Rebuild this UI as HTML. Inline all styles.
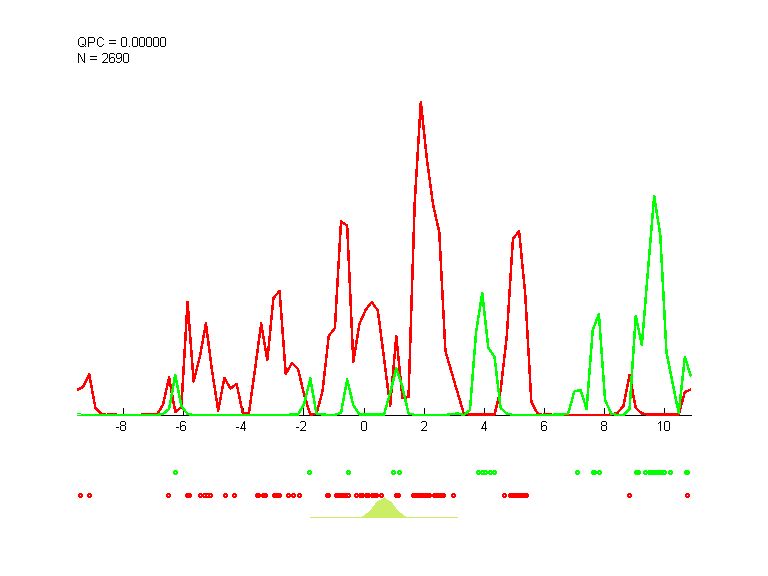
<!DOCTYPE html>
<html><head><meta charset="utf-8"><style>
html,body{margin:0;padding:0;background:#fff;width:768px;height:576px;overflow:hidden;position:relative;font-family:"Liberation Sans",sans-serif}
.t{position:absolute;font-size:13px;line-height:14px;white-space:nowrap;color:transparent}
</style></head><body>
<svg width="768" height="576" viewBox="0 0 768 576" style="position:absolute;left:0;top:0"><g shape-rendering="crispEdges"><rect x="77" y="415" width="615" height="1" fill="#000"/><rect x="123" y="408" width="1" height="7" fill="#000"/><rect x="183" y="408" width="1" height="7" fill="#000"/><rect x="243" y="408" width="1" height="7" fill="#000"/><rect x="303" y="408" width="1" height="7" fill="#000"/><rect x="364" y="408" width="1" height="7" fill="#000"/><rect x="424" y="408" width="1" height="7" fill="#000"/><rect x="484" y="408" width="1" height="7" fill="#000"/><rect x="544" y="408" width="1" height="7" fill="#000"/><rect x="604" y="408" width="1" height="7" fill="#000"/><rect x="664" y="408" width="1" height="7" fill="#000"/><path d="M384 497h1v1h-1zM383 498h3v1h-3zM381 499h6v1h-6zM379 500h10v1h-10zM377 501h14v1h-14zM376 502h16v1h-16zM375 503h18v1h-18zM375 504h18v1h-18zM374 505h20v1h-20zM373 506h22v1h-22zM372 507h24v1h-24zM372 508h24v1h-24zM371 509h26v1h-26zM370 510h28v1h-28zM369 511h30v1h-30zM368 512h32v1h-32zM366 513h36v1h-36zM365 514h38v1h-38zM364 515h40v1h-40zM362 516h44v1h-44zM310 517h148v1h-148z" fill="#CCEE66"/><polyline points="77.00,390.0 83.14,387.0 89.28,374.5 95.42,408.0 101.56,414.0 107.70,415.2 113.84,415.2 119.98,415.2 126.12,415.2 132.26,415.2 138.40,415.2 144.54,415.2 150.68,414.5 156.82,414.5 162.96,405.0 169.10,377.5 175.24,412.0 181.38,407.0 187.52,302.0 193.66,381.5 199.80,357.0 205.94,323.5 212.08,371.0 218.22,410.5 224.36,378.0 230.50,388.5 236.64,384.0 242.78,413.0 248.92,413.0 255.06,369.0 261.20,323.5 267.34,360.0 273.48,298.0 279.62,291.0 285.76,374.0 291.90,363.0 298.04,369.0 304.18,395.0 310.32,414.5 316.46,414.0 322.60,391.0 328.74,336.0 334.88,328.0 341.02,221.5 347.16,225.5 353.30,362.0 359.44,324.0 365.58,310.0 371.72,302.0 377.86,310.5 384.00,358.0 390.14,406.0 396.28,336.5 402.42,398.0 408.56,397.0 414.70,203.0 420.84,102.0 426.98,160.0 433.12,205.0 439.26,232.0 445.40,351.0 451.54,372.0 457.68,393.0 463.82,413.6 469.96,414.5 476.10,414.5 482.24,414.5 488.38,414.5 494.52,414.5 500.66,390.0 506.80,336.0 512.94,239.0 519.08,231.0 525.22,294.0 531.36,402.0 537.50,413.5 543.64,415.2 549.78,415.2 555.92,415.2 562.06,415.2 568.20,415.2 574.34,415.2 580.48,415.2 586.62,415.2 592.76,415.2 598.90,415.2 605.04,415.2 611.18,414.5 617.32,413.0 623.46,406.0 629.60,375.0 635.74,408.0 641.88,413.5 648.02,414.5 654.16,414.5 660.30,414.5 666.44,414.5 672.58,414.5 678.72,414.5 684.86,392.0 691.00,389.5" fill="none" stroke="#FF0000" stroke-width="2.5" stroke-linejoin="round"/><polyline points="81.00,415.0 83.14,415.0 89.28,415.0 95.42,415.0 101.56,415.0 107.70,415.0 113.84,415.0 119.98,415.0 126.12,415.0 132.26,415.0 138.40,415.0 144.54,415.0 150.68,415.0 156.82,415.0 162.96,414.0 169.10,409.0 175.24,375.0 181.38,406.0 187.52,414.0 193.66,415.0 199.80,415.0 205.94,415.0 212.08,415.0 218.22,415.0 224.36,415.0 230.50,415.0 236.64,415.0 242.78,415.0 248.92,415.0 255.06,415.0 261.20,415.0 267.34,415.0 273.48,415.0 279.62,415.0 285.76,415.0 291.90,414.5 298.04,414.5 304.18,404.0 310.32,378.5 316.46,413.5 322.60,414.5 328.74,415.0 334.88,415.0 341.02,413.0 347.16,379.5 353.30,405.0 359.44,414.5 365.58,414.5 371.72,414.5 377.86,414.5 384.00,414.8 390.14,393.0 396.28,368.5 402.42,387.0 408.56,413.5 414.70,415.0 420.84,415.0 426.98,415.0 433.12,415.0 439.26,415.0 445.40,415.0 451.54,414.0 457.68,413.5 463.82,415.0 469.96,410.0 476.10,332.0 482.24,293.0 488.38,348.0 494.52,357.0 500.66,408.0 506.80,413.5 512.94,415.0 519.08,415.0 525.22,415.0 531.36,415.0 537.50,415.0 543.64,415.0 549.78,415.0 555.92,414.5 562.06,414.5 568.20,413.5 574.34,391.5 580.48,390.0 586.62,409.0 592.76,330.0 598.90,314.0 605.04,400.0 611.18,413.5 617.32,415.0 623.46,415.0 629.60,409.0 635.74,316.0 641.88,345.0 648.02,270.0 654.16,196.0 660.30,235.0 666.44,352.0 672.58,383.0 678.72,413.0 684.86,357.0 691.00,376.5" fill="none" stroke="#00FF00" stroke-width="2.5" stroke-linejoin="round"/><path d="M101 413h4v1h-4zM107 413h10v1h-10zM141 413h9v1h-9zM536 413h6v1h-6zM543 413h9v1h-9z" fill="#FF0000"/><rect x="77" y="413" width="4" height="1" fill="#00FF00"/><rect x="77" y="415" width="4" height="1" fill="#00FF00"/><path d="M174,470h3v1h1v3h-1v1h-3v-1h-1v-3h1z M175,472h1v1h-1z" fill="#00FF00" fill-rule="evenodd"/><path d="M308,470h3v1h1v3h-1v1h-3v-1h-1v-3h1z M309,472h1v1h-1z" fill="#00FF00" fill-rule="evenodd"/><path d="M347,470h3v1h1v3h-1v1h-3v-1h-1v-3h1z M348,472h1v1h-1z" fill="#00FF00" fill-rule="evenodd"/><path d="M392,470h3v1h1v3h-1v1h-3v-1h-1v-3h1z M393,472h1v1h-1z" fill="#00FF00" fill-rule="evenodd"/><path d="M398,470h3v1h1v3h-1v1h-3v-1h-1v-3h1z M399,472h1v1h-1z" fill="#00FF00" fill-rule="evenodd"/><path d="M477,470h3v1h1v3h-1v1h-3v-1h-1v-3h1z M478,472h1v1h-1z" fill="#00FF00" fill-rule="evenodd"/><path d="M481,470h3v1h1v3h-1v1h-3v-1h-1v-3h1z M482,472h1v1h-1z" fill="#00FF00" fill-rule="evenodd"/><path d="M484,470h3v1h1v3h-1v1h-3v-1h-1v-3h1z M485,472h1v1h-1z" fill="#00FF00" fill-rule="evenodd"/><path d="M489,470h3v1h1v3h-1v1h-3v-1h-1v-3h1z M490,472h1v1h-1z" fill="#00FF00" fill-rule="evenodd"/><path d="M493,470h3v1h1v3h-1v1h-3v-1h-1v-3h1z M494,472h1v1h-1z" fill="#00FF00" fill-rule="evenodd"/><path d="M576,470h3v1h1v3h-1v1h-3v-1h-1v-3h1z M577,472h1v1h-1z" fill="#00FF00" fill-rule="evenodd"/><path d="M592,470h3v1h1v3h-1v1h-3v-1h-1v-3h1z M593,472h1v1h-1z" fill="#00FF00" fill-rule="evenodd"/><path d="M593,470h3v1h1v3h-1v1h-3v-1h-1v-3h1z M594,472h1v1h-1z" fill="#00FF00" fill-rule="evenodd"/><path d="M598,470h3v1h1v3h-1v1h-3v-1h-1v-3h1z M599,472h1v1h-1z" fill="#00FF00" fill-rule="evenodd"/><path d="M635,470h3v1h1v3h-1v1h-3v-1h-1v-3h1z M636,472h1v1h-1z" fill="#00FF00" fill-rule="evenodd"/><path d="M637,470h3v1h1v3h-1v1h-3v-1h-1v-3h1z M638,472h1v1h-1z" fill="#00FF00" fill-rule="evenodd"/><path d="M644,470h3v1h1v3h-1v1h-3v-1h-1v-3h1z M645,472h1v1h-1z" fill="#00FF00" fill-rule="evenodd"/><path d="M648,470h3v1h1v3h-1v1h-3v-1h-1v-3h1z M649,472h1v1h-1z" fill="#00FF00" fill-rule="evenodd"/><path d="M650,470h3v1h1v3h-1v1h-3v-1h-1v-3h1z M651,472h1v1h-1z" fill="#00FF00" fill-rule="evenodd"/><path d="M652,470h3v1h1v3h-1v1h-3v-1h-1v-3h1z M653,472h1v1h-1z" fill="#00FF00" fill-rule="evenodd"/><path d="M654,470h3v1h1v3h-1v1h-3v-1h-1v-3h1z M655,472h1v1h-1z" fill="#00FF00" fill-rule="evenodd"/><path d="M656,470h3v1h1v3h-1v1h-3v-1h-1v-3h1z M657,472h1v1h-1z" fill="#00FF00" fill-rule="evenodd"/><path d="M658,470h3v1h1v3h-1v1h-3v-1h-1v-3h1z M659,472h1v1h-1z" fill="#00FF00" fill-rule="evenodd"/><path d="M660,470h3v1h1v3h-1v1h-3v-1h-1v-3h1z M661,472h1v1h-1z" fill="#00FF00" fill-rule="evenodd"/><path d="M663,470h3v1h1v3h-1v1h-3v-1h-1v-3h1z M664,472h1v1h-1z" fill="#00FF00" fill-rule="evenodd"/><path d="M669,470h3v1h1v3h-1v1h-3v-1h-1v-3h1z M670,472h1v1h-1z" fill="#00FF00" fill-rule="evenodd"/><path d="M685,470h3v1h1v3h-1v1h-3v-1h-1v-3h1z M686,472h1v1h-1z" fill="#00FF00" fill-rule="evenodd"/><path d="M686,470h3v1h1v3h-1v1h-3v-1h-1v-3h1z M687,472h1v1h-1z" fill="#00FF00" fill-rule="evenodd"/><path d="M79,493h3v1h1v3h-1v1h-3v-1h-1v-3h1z M80,495h1v1h-1z" fill="#FF0000" fill-rule="evenodd"/><path d="M88,493h3v1h1v3h-1v1h-3v-1h-1v-3h1z M89,495h1v1h-1z" fill="#FF0000" fill-rule="evenodd"/><path d="M167,493h3v1h1v3h-1v1h-3v-1h-1v-3h1z M168,495h1v1h-1z" fill="#FF0000" fill-rule="evenodd"/><path d="M186,493h3v1h1v3h-1v1h-3v-1h-1v-3h1z M187,495h1v1h-1z" fill="#FF0000" fill-rule="evenodd"/><path d="M188,493h3v1h1v3h-1v1h-3v-1h-1v-3h1z M189,495h1v1h-1z" fill="#FF0000" fill-rule="evenodd"/><path d="M199,493h3v1h1v3h-1v1h-3v-1h-1v-3h1z M200,495h1v1h-1z" fill="#FF0000" fill-rule="evenodd"/><path d="M203,493h3v1h1v3h-1v1h-3v-1h-1v-3h1z M204,495h1v1h-1z" fill="#FF0000" fill-rule="evenodd"/><path d="M206,493h3v1h1v3h-1v1h-3v-1h-1v-3h1z M207,495h1v1h-1z" fill="#FF0000" fill-rule="evenodd"/><path d="M209,493h3v1h1v3h-1v1h-3v-1h-1v-3h1z M210,495h1v1h-1z" fill="#FF0000" fill-rule="evenodd"/><path d="M224,493h3v1h1v3h-1v1h-3v-1h-1v-3h1z M225,495h1v1h-1z" fill="#FF0000" fill-rule="evenodd"/><path d="M233,493h3v1h1v3h-1v1h-3v-1h-1v-3h1z M234,495h1v1h-1z" fill="#FF0000" fill-rule="evenodd"/><path d="M256,493h3v1h1v3h-1v1h-3v-1h-1v-3h1z M257,495h1v1h-1z" fill="#FF0000" fill-rule="evenodd"/><path d="M257,493h3v1h1v3h-1v1h-3v-1h-1v-3h1z M258,495h1v1h-1z" fill="#FF0000" fill-rule="evenodd"/><path d="M262,493h3v1h1v3h-1v1h-3v-1h-1v-3h1z M263,495h1v1h-1z" fill="#FF0000" fill-rule="evenodd"/><path d="M264,493h3v1h1v3h-1v1h-3v-1h-1v-3h1z M265,495h1v1h-1z" fill="#FF0000" fill-rule="evenodd"/><path d="M273,493h3v1h1v3h-1v1h-3v-1h-1v-3h1z M274,495h1v1h-1z" fill="#FF0000" fill-rule="evenodd"/><path d="M275,493h3v1h1v3h-1v1h-3v-1h-1v-3h1z M276,495h1v1h-1z" fill="#FF0000" fill-rule="evenodd"/><path d="M276,493h3v1h1v3h-1v1h-3v-1h-1v-3h1z M277,495h1v1h-1z" fill="#FF0000" fill-rule="evenodd"/><path d="M278,493h3v1h1v3h-1v1h-3v-1h-1v-3h1z M279,495h1v1h-1z" fill="#FF0000" fill-rule="evenodd"/><path d="M287,493h3v1h1v3h-1v1h-3v-1h-1v-3h1z M288,495h1v1h-1z" fill="#FF0000" fill-rule="evenodd"/><path d="M292,493h3v1h1v3h-1v1h-3v-1h-1v-3h1z M293,495h1v1h-1z" fill="#FF0000" fill-rule="evenodd"/><path d="M298,493h3v1h1v3h-1v1h-3v-1h-1v-3h1z M299,495h1v1h-1z" fill="#FF0000" fill-rule="evenodd"/><path d="M326,493h3v1h1v3h-1v1h-3v-1h-1v-3h1z M327,495h1v1h-1z" fill="#FF0000" fill-rule="evenodd"/><path d="M327,493h3v1h1v3h-1v1h-3v-1h-1v-3h1z M328,495h1v1h-1z" fill="#FF0000" fill-rule="evenodd"/><path d="M335,493h3v1h1v3h-1v1h-3v-1h-1v-3h1z M336,495h1v1h-1z" fill="#FF0000" fill-rule="evenodd"/><path d="M337,493h3v1h1v3h-1v1h-3v-1h-1v-3h1z M338,495h1v1h-1z" fill="#FF0000" fill-rule="evenodd"/><path d="M338,493h3v1h1v3h-1v1h-3v-1h-1v-3h1z M339,495h1v1h-1z" fill="#FF0000" fill-rule="evenodd"/><path d="M340,493h3v1h1v3h-1v1h-3v-1h-1v-3h1z M341,495h1v1h-1z" fill="#FF0000" fill-rule="evenodd"/><path d="M342,493h3v1h1v3h-1v1h-3v-1h-1v-3h1z M343,495h1v1h-1z" fill="#FF0000" fill-rule="evenodd"/><path d="M344,493h3v1h1v3h-1v1h-3v-1h-1v-3h1z M345,495h1v1h-1z" fill="#FF0000" fill-rule="evenodd"/><path d="M347,493h3v1h1v3h-1v1h-3v-1h-1v-3h1z M348,495h1v1h-1z" fill="#FF0000" fill-rule="evenodd"/><path d="M355,493h3v1h1v3h-1v1h-3v-1h-1v-3h1z M356,495h1v1h-1z" fill="#FF0000" fill-rule="evenodd"/><path d="M359,493h3v1h1v3h-1v1h-3v-1h-1v-3h1z M360,495h1v1h-1z" fill="#FF0000" fill-rule="evenodd"/><path d="M361,493h3v1h1v3h-1v1h-3v-1h-1v-3h1z M362,495h1v1h-1z" fill="#FF0000" fill-rule="evenodd"/><path d="M365,493h3v1h1v3h-1v1h-3v-1h-1v-3h1z M366,495h1v1h-1z" fill="#FF0000" fill-rule="evenodd"/><path d="M367,493h3v1h1v3h-1v1h-3v-1h-1v-3h1z M368,495h1v1h-1z" fill="#FF0000" fill-rule="evenodd"/><path d="M371,493h3v1h1v3h-1v1h-3v-1h-1v-3h1z M372,495h1v1h-1z" fill="#FF0000" fill-rule="evenodd"/><path d="M373,493h3v1h1v3h-1v1h-3v-1h-1v-3h1z M374,495h1v1h-1z" fill="#FF0000" fill-rule="evenodd"/><path d="M375,493h3v1h1v3h-1v1h-3v-1h-1v-3h1z M376,495h1v1h-1z" fill="#FF0000" fill-rule="evenodd"/><path d="M380,493h3v1h1v3h-1v1h-3v-1h-1v-3h1z M381,495h1v1h-1z" fill="#FF0000" fill-rule="evenodd"/><path d="M395,493h3v1h1v3h-1v1h-3v-1h-1v-3h1z M396,495h1v1h-1z" fill="#FF0000" fill-rule="evenodd"/><path d="M397,493h3v1h1v3h-1v1h-3v-1h-1v-3h1z M398,495h1v1h-1z" fill="#FF0000" fill-rule="evenodd"/><path d="M412,493h3v1h1v3h-1v1h-3v-1h-1v-3h1z M413,495h1v1h-1z" fill="#FF0000" fill-rule="evenodd"/><path d="M414,493h3v1h1v3h-1v1h-3v-1h-1v-3h1z M415,495h1v1h-1z" fill="#FF0000" fill-rule="evenodd"/><path d="M416,493h3v1h1v3h-1v1h-3v-1h-1v-3h1z M417,495h1v1h-1z" fill="#FF0000" fill-rule="evenodd"/><path d="M418,493h3v1h1v3h-1v1h-3v-1h-1v-3h1z M419,495h1v1h-1z" fill="#FF0000" fill-rule="evenodd"/><path d="M420,493h3v1h1v3h-1v1h-3v-1h-1v-3h1z M421,495h1v1h-1z" fill="#FF0000" fill-rule="evenodd"/><path d="M422,493h3v1h1v3h-1v1h-3v-1h-1v-3h1z M423,495h1v1h-1z" fill="#FF0000" fill-rule="evenodd"/><path d="M424,493h3v1h1v3h-1v1h-3v-1h-1v-3h1z M425,495h1v1h-1z" fill="#FF0000" fill-rule="evenodd"/><path d="M426,493h3v1h1v3h-1v1h-3v-1h-1v-3h1z M427,495h1v1h-1z" fill="#FF0000" fill-rule="evenodd"/><path d="M428,493h3v1h1v3h-1v1h-3v-1h-1v-3h1z M429,495h1v1h-1z" fill="#FF0000" fill-rule="evenodd"/><path d="M433,493h3v1h1v3h-1v1h-3v-1h-1v-3h1z M434,495h1v1h-1z" fill="#FF0000" fill-rule="evenodd"/><path d="M435,493h3v1h1v3h-1v1h-3v-1h-1v-3h1z M436,495h1v1h-1z" fill="#FF0000" fill-rule="evenodd"/><path d="M437,493h3v1h1v3h-1v1h-3v-1h-1v-3h1z M438,495h1v1h-1z" fill="#FF0000" fill-rule="evenodd"/><path d="M439,493h3v1h1v3h-1v1h-3v-1h-1v-3h1z M440,495h1v1h-1z" fill="#FF0000" fill-rule="evenodd"/><path d="M441,493h3v1h1v3h-1v1h-3v-1h-1v-3h1z M442,495h1v1h-1z" fill="#FF0000" fill-rule="evenodd"/><path d="M442,493h3v1h1v3h-1v1h-3v-1h-1v-3h1z M443,495h1v1h-1z" fill="#FF0000" fill-rule="evenodd"/><path d="M452,493h3v1h1v3h-1v1h-3v-1h-1v-3h1z M453,495h1v1h-1z" fill="#FF0000" fill-rule="evenodd"/><path d="M503,493h3v1h1v3h-1v1h-3v-1h-1v-3h1z M504,495h1v1h-1z" fill="#FF0000" fill-rule="evenodd"/><path d="M509,493h3v1h1v3h-1v1h-3v-1h-1v-3h1z M510,495h1v1h-1z" fill="#FF0000" fill-rule="evenodd"/><path d="M511,493h3v1h1v3h-1v1h-3v-1h-1v-3h1z M512,495h1v1h-1z" fill="#FF0000" fill-rule="evenodd"/><path d="M513,493h3v1h1v3h-1v1h-3v-1h-1v-3h1z M514,495h1v1h-1z" fill="#FF0000" fill-rule="evenodd"/><path d="M515,493h3v1h1v3h-1v1h-3v-1h-1v-3h1z M516,495h1v1h-1z" fill="#FF0000" fill-rule="evenodd"/><path d="M517,493h3v1h1v3h-1v1h-3v-1h-1v-3h1z M518,495h1v1h-1z" fill="#FF0000" fill-rule="evenodd"/><path d="M519,493h3v1h1v3h-1v1h-3v-1h-1v-3h1z M520,495h1v1h-1z" fill="#FF0000" fill-rule="evenodd"/><path d="M521,493h3v1h1v3h-1v1h-3v-1h-1v-3h1z M522,495h1v1h-1z" fill="#FF0000" fill-rule="evenodd"/><path d="M523,493h3v1h1v3h-1v1h-3v-1h-1v-3h1z M524,495h1v1h-1z" fill="#FF0000" fill-rule="evenodd"/><path d="M525,493h3v1h1v3h-1v1h-3v-1h-1v-3h1z M526,495h1v1h-1z" fill="#FF0000" fill-rule="evenodd"/><path d="M628,493h3v1h1v3h-1v1h-3v-1h-1v-3h1z M629,495h1v1h-1z" fill="#FF0000" fill-rule="evenodd"/><path d="M686,493h3v1h1v3h-1v1h-3v-1h-1v-3h1z M687,495h1v1h-1z" fill="#FF0000" fill-rule="evenodd"/><path d="M80 37h4v1h-4zM79 38h1v1h-1zM84 38h1v1h-1zM78 39h1v1h-1zM85 39h1v1h-1zM78 40h1v1h-1zM85 40h1v1h-1zM78 41h1v1h-1zM85 41h1v1h-1zM78 42h1v1h-1zM85 42h1v1h-1zM78 43h1v1h-1zM85 43h1v1h-1zM78 44h1v1h-1zM82 44h2v1h-2zM85 44h1v1h-1zM79 45h1v1h-1zM84 45h1v1h-1zM80 46h4v1h-4zM85 46h1v1h-1zM88 37h6v1h-6zM88 38h1v1h-1zM94 38h1v1h-1zM88 39h1v1h-1zM94 39h1v1h-1zM88 40h1v1h-1zM94 40h1v1h-1zM88 41h1v1h-1zM94 41h1v1h-1zM88 42h6v1h-6zM88 43h1v1h-1zM88 44h1v1h-1zM88 45h1v1h-1zM88 46h1v1h-1zM99 37h3v1h-3zM98 38h1v1h-1zM102 38h1v1h-1zM97 39h1v1h-1zM103 39h1v1h-1zM97 40h1v1h-1zM97 41h1v1h-1zM97 42h1v1h-1zM97 43h1v1h-1zM97 44h1v1h-1zM103 44h1v1h-1zM98 45h1v1h-1zM102 45h1v1h-1zM99 46h3v1h-3zM109 40h7v1h-7zM109 43h7v1h-7zM122 37h4v1h-4zM121 38h1v1h-1zM126 38h1v1h-1zM121 39h1v1h-1zM126 39h1v1h-1zM121 40h1v1h-1zM126 40h1v1h-1zM121 41h1v1h-1zM126 41h1v1h-1zM121 42h1v1h-1zM126 42h1v1h-1zM121 43h1v1h-1zM126 43h1v1h-1zM121 44h1v1h-1zM126 44h1v1h-1zM121 45h1v1h-1zM126 45h1v1h-1zM122 46h4v1h-4zM129 46h1v1h-1zM133 37h4v1h-4zM132 38h1v1h-1zM137 38h1v1h-1zM132 39h1v1h-1zM137 39h1v1h-1zM132 40h1v1h-1zM137 40h1v1h-1zM132 41h1v1h-1zM137 41h1v1h-1zM132 42h1v1h-1zM137 42h1v1h-1zM132 43h1v1h-1zM137 43h1v1h-1zM132 44h1v1h-1zM137 44h1v1h-1zM132 45h1v1h-1zM137 45h1v1h-1zM133 46h4v1h-4zM140 37h4v1h-4zM139 38h1v1h-1zM144 38h1v1h-1zM139 39h1v1h-1zM144 39h1v1h-1zM139 40h1v1h-1zM144 40h1v1h-1zM139 41h1v1h-1zM144 41h1v1h-1zM139 42h1v1h-1zM144 42h1v1h-1zM139 43h1v1h-1zM144 43h1v1h-1zM139 44h1v1h-1zM144 44h1v1h-1zM139 45h1v1h-1zM144 45h1v1h-1zM140 46h4v1h-4zM147 37h4v1h-4zM146 38h1v1h-1zM151 38h1v1h-1zM146 39h1v1h-1zM151 39h1v1h-1zM146 40h1v1h-1zM151 40h1v1h-1zM146 41h1v1h-1zM151 41h1v1h-1zM146 42h1v1h-1zM151 42h1v1h-1zM146 43h1v1h-1zM151 43h1v1h-1zM146 44h1v1h-1zM151 44h1v1h-1zM146 45h1v1h-1zM151 45h1v1h-1zM147 46h4v1h-4zM154 37h4v1h-4zM153 38h1v1h-1zM158 38h1v1h-1zM153 39h1v1h-1zM158 39h1v1h-1zM153 40h1v1h-1zM158 40h1v1h-1zM153 41h1v1h-1zM158 41h1v1h-1zM153 42h1v1h-1zM158 42h1v1h-1zM153 43h1v1h-1zM158 43h1v1h-1zM153 44h1v1h-1zM158 44h1v1h-1zM153 45h1v1h-1zM158 45h1v1h-1zM154 46h4v1h-4zM161 37h4v1h-4zM160 38h1v1h-1zM165 38h1v1h-1zM160 39h1v1h-1zM165 39h1v1h-1zM160 40h1v1h-1zM165 40h1v1h-1zM160 41h1v1h-1zM165 41h1v1h-1zM160 42h1v1h-1zM165 42h1v1h-1zM160 43h1v1h-1zM165 43h1v1h-1zM160 44h1v1h-1zM165 44h1v1h-1zM160 45h1v1h-1zM165 45h1v1h-1zM161 46h4v1h-4zM78 53h1v1h-1zM84 53h1v1h-1zM78 54h2v1h-2zM84 54h1v1h-1zM78 55h1v1h-1zM80 55h1v1h-1zM84 55h1v1h-1zM78 56h1v1h-1zM80 56h1v1h-1zM84 56h1v1h-1zM78 57h1v1h-1zM81 57h1v1h-1zM84 57h1v1h-1zM78 58h1v1h-1zM81 58h1v1h-1zM84 58h1v1h-1zM78 59h1v1h-1zM82 59h1v1h-1zM84 59h1v1h-1zM78 60h1v1h-1zM82 60h1v1h-1zM84 60h1v1h-1zM78 61h1v1h-1zM83 61h2v1h-2zM78 62h1v1h-1zM84 62h1v1h-1zM90 56h7v1h-7zM90 59h7v1h-7zM103 53h4v1h-4zM102 54h1v1h-1zM107 54h1v1h-1zM107 55h1v1h-1zM107 56h1v1h-1zM107 57h1v1h-1zM106 58h1v1h-1zM105 59h1v1h-1zM104 60h1v1h-1zM103 61h1v1h-1zM102 62h6v1h-6zM110 53h4v1h-4zM109 54h1v1h-1zM114 54h1v1h-1zM109 55h1v1h-1zM109 56h1v1h-1zM109 57h1v1h-1zM111 57h3v1h-3zM109 58h2v1h-2zM114 58h1v1h-1zM109 59h1v1h-1zM114 59h1v1h-1zM109 60h1v1h-1zM114 60h1v1h-1zM109 61h1v1h-1zM114 61h1v1h-1zM110 62h4v1h-4zM117 53h4v1h-4zM116 54h1v1h-1zM121 54h1v1h-1zM116 55h1v1h-1zM121 55h1v1h-1zM116 56h1v1h-1zM121 56h1v1h-1zM116 57h1v1h-1zM120 57h2v1h-2zM117 58h3v1h-3zM121 58h1v1h-1zM121 59h1v1h-1zM121 60h1v1h-1zM116 61h1v1h-1zM120 61h1v1h-1zM117 62h3v1h-3zM124 53h4v1h-4zM123 54h1v1h-1zM128 54h1v1h-1zM123 55h1v1h-1zM128 55h1v1h-1zM123 56h1v1h-1zM128 56h1v1h-1zM123 57h1v1h-1zM128 57h1v1h-1zM123 58h1v1h-1zM128 58h1v1h-1zM123 59h1v1h-1zM128 59h1v1h-1zM123 60h1v1h-1zM128 60h1v1h-1zM123 61h1v1h-1zM128 61h1v1h-1zM124 62h4v1h-4zM116 427h3v1h-3zM121 421h4v1h-4zM120 422h1v1h-1zM125 422h1v1h-1zM120 423h1v1h-1zM125 423h1v1h-1zM120 424h1v1h-1zM125 424h1v1h-1zM121 425h4v1h-4zM120 426h1v1h-1zM125 426h1v1h-1zM120 427h1v1h-1zM125 427h1v1h-1zM120 428h1v1h-1zM125 428h1v1h-1zM120 429h1v1h-1zM125 429h1v1h-1zM121 430h4v1h-4zM176 427h3v1h-3zM181 421h4v1h-4zM180 422h1v1h-1zM185 422h1v1h-1zM180 423h1v1h-1zM180 424h1v1h-1zM180 425h1v1h-1zM182 425h3v1h-3zM180 426h2v1h-2zM185 426h1v1h-1zM180 427h1v1h-1zM185 427h1v1h-1zM180 428h1v1h-1zM185 428h1v1h-1zM180 429h1v1h-1zM185 429h1v1h-1zM181 430h4v1h-4zM236 427h3v1h-3zM244 421h1v1h-1zM243 422h2v1h-2zM243 423h2v1h-2zM242 424h1v1h-1zM244 424h1v1h-1zM242 425h1v1h-1zM244 425h1v1h-1zM241 426h1v1h-1zM244 426h1v1h-1zM241 427h1v1h-1zM244 427h1v1h-1zM240 428h6v1h-6zM244 429h1v1h-1zM244 430h1v1h-1zM296 427h3v1h-3zM301 421h4v1h-4zM300 422h1v1h-1zM305 422h1v1h-1zM305 423h1v1h-1zM305 424h1v1h-1zM305 425h1v1h-1zM304 426h1v1h-1zM303 427h1v1h-1zM302 428h1v1h-1zM301 429h1v1h-1zM300 430h6v1h-6zM362 421h4v1h-4zM361 422h1v1h-1zM366 422h1v1h-1zM361 423h1v1h-1zM366 423h1v1h-1zM361 424h1v1h-1zM366 424h1v1h-1zM361 425h1v1h-1zM366 425h1v1h-1zM361 426h1v1h-1zM366 426h1v1h-1zM361 427h1v1h-1zM366 427h1v1h-1zM361 428h1v1h-1zM366 428h1v1h-1zM361 429h1v1h-1zM366 429h1v1h-1zM362 430h4v1h-4zM422 421h4v1h-4zM421 422h1v1h-1zM426 422h1v1h-1zM426 423h1v1h-1zM426 424h1v1h-1zM426 425h1v1h-1zM425 426h1v1h-1zM424 427h1v1h-1zM423 428h1v1h-1zM422 429h1v1h-1zM421 430h6v1h-6zM485 421h1v1h-1zM484 422h2v1h-2zM484 423h2v1h-2zM483 424h1v1h-1zM485 424h1v1h-1zM483 425h1v1h-1zM485 425h1v1h-1zM482 426h1v1h-1zM485 426h1v1h-1zM482 427h1v1h-1zM485 427h1v1h-1zM481 428h6v1h-6zM485 429h1v1h-1zM485 430h1v1h-1zM542 421h4v1h-4zM541 422h1v1h-1zM546 422h1v1h-1zM541 423h1v1h-1zM541 424h1v1h-1zM541 425h1v1h-1zM543 425h3v1h-3zM541 426h2v1h-2zM546 426h1v1h-1zM541 427h1v1h-1zM546 427h1v1h-1zM541 428h1v1h-1zM546 428h1v1h-1zM541 429h1v1h-1zM546 429h1v1h-1zM542 430h4v1h-4zM602 421h4v1h-4zM601 422h1v1h-1zM606 422h1v1h-1zM601 423h1v1h-1zM606 423h1v1h-1zM601 424h1v1h-1zM606 424h1v1h-1zM602 425h4v1h-4zM601 426h1v1h-1zM606 426h1v1h-1zM601 427h1v1h-1zM606 427h1v1h-1zM601 428h1v1h-1zM606 428h1v1h-1zM601 429h1v1h-1zM606 429h1v1h-1zM602 430h4v1h-4zM660 421h1v1h-1zM659 422h2v1h-2zM658 423h1v1h-1zM660 423h1v1h-1zM660 424h1v1h-1zM660 425h1v1h-1zM660 426h1v1h-1zM660 427h1v1h-1zM660 428h1v1h-1zM660 429h1v1h-1zM660 430h1v1h-1zM665 421h4v1h-4zM664 422h1v1h-1zM669 422h1v1h-1zM664 423h1v1h-1zM669 423h1v1h-1zM664 424h1v1h-1zM669 424h1v1h-1zM664 425h1v1h-1zM669 425h1v1h-1zM664 426h1v1h-1zM669 426h1v1h-1zM664 427h1v1h-1zM669 427h1v1h-1zM664 428h1v1h-1zM669 428h1v1h-1zM664 429h1v1h-1zM669 429h1v1h-1zM665 430h4v1h-4z" fill="#000"/></g></svg>
<div class="t" style="left:77px;top:35px">QPC = 0.00000</div>
<div class="t" style="left:77px;top:51px">N = 2690</div>
<div class="t" style="left:115px;top:419px">-8</div><div class="t" style="left:175px;top:419px">-6</div><div class="t" style="left:235px;top:419px">-4</div><div class="t" style="left:295px;top:419px">-2</div><div class="t" style="left:360px;top:419px">0</div><div class="t" style="left:420px;top:419px">2</div><div class="t" style="left:480px;top:419px">4</div><div class="t" style="left:540px;top:419px">6</div><div class="t" style="left:600px;top:419px">8</div><div class="t" style="left:657px;top:419px">10</div>
</body></html>
